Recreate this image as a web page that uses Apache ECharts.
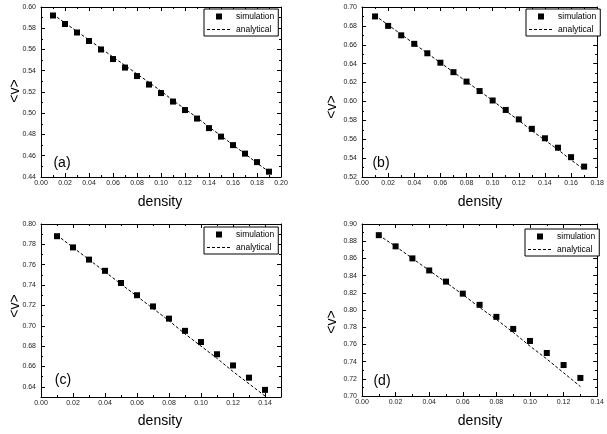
<!DOCTYPE html>
<html>
<head>
<meta charset="utf-8">
<script src="https://cdn.jsdelivr.net/npm/echarts@6/dist/echarts.min.js"></script>
<style>html,body{margin:0;padding:0;background:#fff}#chart{width:607px;height:434px}</style>
</head>
<body>
<div id="chart"></div>
<script>
// ---- data ----
const densityA = [0.01,0.02,0.03,0.04,0.05,0.06,0.07,0.08,0.09,0.10,0.11,0.12,0.13,0.14,0.15,0.16,0.17,0.18,0.19];
const simulationA = [0.592,0.584,0.576,0.568,0.560,0.551,0.543,0.535,0.527,0.519,0.511,0.503,0.495,0.486,0.478,0.470,0.462,0.454,0.445];
const analyticalA = [0.593,0.585,0.577,0.569,0.561,0.553,0.545,0.537,0.529,0.521,0.512,0.504,0.496,0.487,0.479,0.470,0.462,0.453,0.445];

const densityB = [0.01,0.02,0.03,0.04,0.05,0.06,0.07,0.08,0.09,0.10,0.11,0.12,0.13,0.14,0.15,0.16,0.17];
const simulationB = [0.690,0.680,0.670,0.661,0.651,0.641,0.631,0.621,0.611,0.601,0.591,0.581,0.571,0.561,0.551,0.541,0.531];
const analyticalB = [0.691,0.681,0.671,0.661,0.651,0.641,0.631,0.621,0.611,0.601,0.590,0.580,0.569,0.559,0.549,0.538,0.528];

const densityC = [0.01,0.02,0.03,0.04,0.05,0.06,0.07,0.08,0.09,0.10,0.11,0.12,0.13,0.14];
const simulationC = [0.788,0.777,0.765,0.754,0.742,0.730,0.719,0.707,0.695,0.684,0.672,0.661,0.649,0.637];
const analyticalC = [0.789,0.777,0.765,0.753,0.741,0.729,0.717,0.705,0.692,0.680,0.668,0.655,0.643,0.631];

const densityD = [0.01,0.02,0.03,0.04,0.05,0.06,0.07,0.08,0.09,0.10,0.11,0.12,0.13];
const simulationD = [0.887,0.874,0.860,0.846,0.833,0.819,0.806,0.792,0.778,0.764,0.750,0.736,0.721];
const analyticalD = [0.887,0.874,0.860,0.846,0.832,0.818,0.803,0.789,0.774,0.758,0.743,0.727,0.711];

const xTicksA = [0.00,0.02,0.04,0.06,0.08,0.10,0.12,0.14,0.16,0.18,0.20];
const yTicksA = [0.44,0.46,0.48,0.50,0.52,0.54,0.56,0.58,0.60];
const xTicksB = [0.00,0.02,0.04,0.06,0.08,0.10,0.12,0.14,0.16,0.18];
const yTicksB = [0.52,0.54,0.56,0.58,0.60,0.62,0.64,0.66,0.68,0.70];
const xTicksC = [0.00,0.02,0.04,0.06,0.08,0.10,0.12,0.14];
const yTicksC = [0.64,0.66,0.68,0.70,0.72,0.74,0.76,0.78,0.80];
const xTicksD = [0.00,0.02,0.04,0.06,0.08,0.10,0.12,0.14];
const yTicksD = [0.70,0.72,0.74,0.76,0.78,0.80,0.82,0.84,0.86,0.88,0.90];

const seriesNames = ['simulation','analytical'];
const xTitle = 'density';
const yTitle = '<v>';
const panelTags = ['(a)','(b)','(c)','(d)'];

// ---- layout ----
const FONT = 'Liberation Sans, Arial, sans-serif';
const panels = [
  {grid:{left:41,top:7,width:240,height:170}, xr:[0,0.20], yr:[0.44,0.60], xt:xTicksA, yt:yTicksA,
   d:densityA, s:simulationA, a:analyticalA, tagPos:[62,163], yTitlePos:[15,91], xTitlePos:[160,202], legend:{left:204,top:9}},
  {grid:{left:362,top:7,width:238,height:170}, xr:[0,0.18], yr:[0.52,0.70], xt:xTicksB, yt:yTicksB,
   d:densityB, s:simulationB, a:analyticalB, tagPos:[381,163], yTitlePos:[332,107], xTitlePos:[480,202], legend:{left:526,top:9}},
  {grid:{left:41,top:224,width:240,height:173}, xr:[0,0.15], yr:[0.63,0.80], xt:xTicksC, yt:yTicksC,
   d:densityC, s:simulationC, a:analyticalC, tagPos:[63,380], yTitlePos:[15,306], xTitlePos:[160,421], legend:{left:204,top:227}},
  {grid:{left:362,top:224,width:238,height:172}, xr:[0,0.14], yr:[0.70,0.90], xt:xTicksD, yt:yTicksD,
   d:densityD, s:simulationD, a:analyticalD, tagPos:[382,381], yTitlePos:[332,322], xTitlePos:[480,421], legend:{left:525,top:229}}
];

// legend icons: square centred in a 24x6 box, and a dashed stroke built from small bars
const ICON_SQUARE = 'path://M0,0L0,0M24,6L24,6M9,0h6v6h-6z';
const ICON_DASH = 'path://M0,0L0,0M24,6L24,6M0,2.5h3v1h-3zM5,2.5h3v1h-3zM10,2.5h3v1h-3zM15,2.5h3v1h-3zM20,2.5h3v1h-3z';

function r6(v){return Math.round(v*1e6)/1e6;}
function minorsOf(ticks, lo, hi){
  const step = ticks[1]-ticks[0];
  const out = [];
  const first = r6(ticks[0]-step/2);
  if (first >= lo-1e-9) out.push(first);
  ticks.forEach(t=>{const m=r6(t+step/2); if(m<=hi+1e-9) out.push(m);});
  return out;
}

const grids=[], xAxes=[], yAxes=[], series=[], legends=[], graphics=[];
panels.forEach((p,i)=>{
  grids.push(Object.assign({containLabel:false}, p.grid));
  const xMin = minorsOf(p.xt, p.xr[0], p.xr[1]);
  const yMin = minorsOf(p.yt, p.yr[0], p.yr[1]);
  const lineStyle = {color:'#000', width:1};
  const lbl = {fontSize:7, color:'#222', fontFamily:FONT, formatter:v=>v.toFixed(2)};
  const mkAxis = (pos, range, majors, minors, withLabels, margin) => ([
    {type:'value', gridIndex:i, position:pos, min:range[0], max:range[1],
     axisLine:{show:true, onZero:false, lineStyle},
     axisTick:{show:true, inside:true, length:4, lineStyle, customValues:majors},
     axisLabel: withLabels ? Object.assign({show:true, margin, customValues:majors}, lbl) : {show:false},
     splitLine:{show:false}},
    {type:'value', gridIndex:i, position:pos, min:range[0], max:range[1],
     axisLine:{show:false, onZero:false},
     axisTick:{show:true, inside:true, length:2, lineStyle, customValues:minors},
     axisLabel:{show:false}, splitLine:{show:false}}
  ]);
  const xBase = xAxes.length, yBase = yAxes.length;
  xAxes.push(...mkAxis('bottom', p.xr, p.xt, xMin, true, 3));
  xAxes.push(...mkAxis('top', p.xr, p.xt, xMin, false, 0));
  yAxes.push(...mkAxis('left', p.yr, p.yt, yMin, true, 5));
  yAxes.push(...mkAxis('right', p.yr, p.yt, yMin, false, 0));

  series.push({
    name:seriesNames[1], type:'line', xAxisIndex:xBase, yAxisIndex:yBase,
    data:p.d.map((x,k)=>[x,p.a[k]]), symbol:'none', showSymbol:false, smooth:false,
    lineStyle:{color:'#000', width:1, type:[3,2]}, itemStyle:{color:'#000'}, z:2, silent:true
  });
  series.push({
    name:seriesNames[0], type:'scatter', xAxisIndex:xBase, yAxisIndex:yBase,
    data:p.d.map((x,k)=>[x,p.s[k]]), symbol:'rect', symbolSize:6,
    itemStyle:{color:'#000', opacity:1}, z:3, silent:true
  });
  legends.push({
    left:p.legend.left, top:p.legend.top, orient:'vertical', selectedMode:false,
    data:[{name:seriesNames[0], icon:ICON_SQUARE}, {name:seriesNames[1], icon:ICON_DASH}],
    itemWidth:24, itemHeight:6, itemGap:4, itemTextGap:5,
    itemStyle:{color:'#000', opacity:1, borderWidth:0},
    lineStyle:{width:0},
    padding:[3,4,2,3], borderColor:'#000', borderWidth:1, borderRadius:0,
    backgroundColor:'#fff',
    textStyle:{fontSize:8.5, color:'#000', fontFamily:FONT}
  });
  graphics.push({type:'text', x:p.xTitlePos[0], y:p.xTitlePos[1],
    style:{text:xTitle, font:'14px '+FONT, fill:'#000', align:'center', verticalAlign:'middle'}});
  graphics.push({type:'text', x:p.yTitlePos[0], y:p.yTitlePos[1], rotation:Math.PI/2,
    style:{text:yTitle, font:'14px '+FONT, fill:'#000', align:'center', verticalAlign:'middle'}});
  graphics.push({type:'text', x:p.tagPos[0], y:p.tagPos[1],
    style:{text:panelTags[i], font:'14px '+FONT, fill:'#000', align:'center', verticalAlign:'middle'}});
});

const chart = echarts.init(document.getElementById('chart'), null, {renderer:'canvas'});
chart.setOption({
  animation:false,
  backgroundColor:'#fff',
  grid:grids, xAxis:xAxes, yAxis:yAxes, series, legend:legends, graphic:graphics
});
</script>
</body>
</html>
